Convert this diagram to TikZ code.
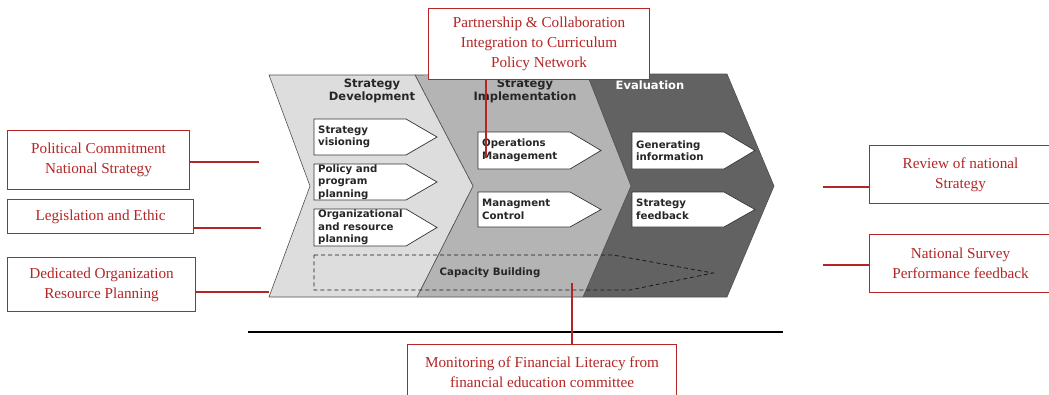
\documentclass[tikz,border=0pt]{standalone}
\usepackage{fontspec}
\setmainfont{Liberation Serif}
\newfontfamily\vsans{DejaVu Sans}
\definecolor{redc}{RGB}{180,38,38}
\definecolor{lightg}{RGB}{221,221,221}
\definecolor{midg}{RGB}{180,180,180}
\definecolor{darkg}{RGB}{98,98,98}
\definecolor{edgeg}{RGB}{80,80,80}
\newcommand\ibox[5]{%
  \draw[iboxst] (#2,#3) -- (#2+92,#3) -- (#2+123,{(#3+#4)/2}) -- (#2+92,#4) -- (#2,#4) -- cycle;
  \node[itext] (#1) at (#2+4,{(#3+#4)/2}) {#5};
}
\begin{document}
\begin{tikzpicture}[x=1pt,y=-1pt,
  redbox/.style={draw=redc, line width=1.1pt, fill=white, text=redc,
    font=\fontsize{15.2}{20}\selectfont, align=center, inner sep=0pt, anchor=north west},
  redline/.style={draw=redc, line width=1.1pt},
  chev/.style={draw=edgeg, line width=0.6pt},
  hdr/.style={font=\vsans\bfseries\fontsize{11.5}{13}\selectfont, align=center, text=black!85},
  iboxst/.style={draw=black!80, line width=0.7pt, fill=white},
  itext/.style={font=\vsans\bfseries\fontsize{10.2}{12.6}\selectfont, align=left, anchor=west, inner sep=0pt, text=black!85}
]
\useasboundingbox (0,0) rectangle (1049,394);
\clip (0,0) rectangle (1049,394);
\fill[white] (0,0) rectangle (1049,394);
% chevrons
\draw[chev, fill=darkg] (587,74) -- (727,74) -- (774,186) -- (727,297) -- (583,297) -- (631,186) -- cycle;
\draw[chev, fill=midg] (415,75) -- (587,74) -- (631,186) -- (583,297) -- (417,297) -- (473,186) -- cycle;
\draw[chev, fill=lightg] (269,75) -- (415,75) -- (473,186) -- (417,297) -- (269,297) -- (310,186) -- cycle;
% headers
\node[hdr] (h1) at (372,91) {Strategy\\Development};
\node[hdr] (h2) at (525,91) {Strategy\\Implementation};
\node[hdr, text=white] (h3) at (650,85) {Evaluation};
% inner boxes
\ibox{sv}{314}{119}{155}{Strategy\\visioning}
\ibox{pp}{314}{164}{200}{Policy and\\program\\planning}
\ibox{org}{314}{209}{246}{Organizational\\and resource\\planning}
\ibox{om}{478}{132}{169}{Operations\\Management}
\ibox{mc}{478}{192}{227}{Managment\\Control}
\ibox{gi}{632}{132}{169}{Generating\\information}
\ibox{sf}{632}{192}{227}{Strategy\\feedback}
% capacity building
\draw[black!90, dashed, dash pattern=on 4pt off 3pt, line width=0.8pt] (314,255) -- (613,255) -- (713,273) -- (630,290) -- (314,290) -- cycle;
\node[itext, anchor=center] (cb) at (490,273) {Capacity Building};
% baseline
\draw[line width=2.8pt] (248,332) -- (783,332);
% red boxes
\node[redbox, minimum width=182, minimum height=59] (pc) at (7,130) {Political Commitment\\National Strategy};
\node[redbox, minimum width=186, minimum height=34] (le) at (7,199) {Legislation and Ethic};
\node[redbox, minimum width=188, minimum height=54] (do) at (7,257) {Dedicated Organization\\Resource Planning};
\node[redbox, minimum width=221, minimum height=71] (pa) at (428,8) {Partnership \& Collaboration\\Integration to Curriculum\\Policy Network};
\node[redbox, minimum width=269, minimum height=56] (mo) at (407,344) {Monitoring of Financial Literacy from\\financial education committee};
\node[redbox, minimum width=182, minimum height=58] (rv) at (869,145) {Review of national\\Strategy};
\node[redbox, minimum width=182, minimum height=58] (ns) at (869,234) {National Survey\\Performance feedback};
% connectors
\coordinate (pcE) at (259,162);
\coordinate (leE) at (261,228);
\coordinate (doE) at (269,292);
\coordinate (paE) at (486,158);
\coordinate (moE) at (572,283);
\coordinate (rvE) at (823,187);
\coordinate (nsE) at (823,265);
\draw[redline] (pc.east |- pcE) -- (pcE);
\draw[redline] (le.east |- leE) -- (leE);
\draw[redline] (do.east |- doE) -- (doE);
\draw[redline] (pa.south -| paE) -- (paE);
\draw[redline] (mo.north -| moE) -- (moE);
\draw[redline] (rv.west |- rvE) -- (rvE);
\draw[redline] (ns.west |- nsE) -- (nsE);
\end{tikzpicture}
\end{document}
